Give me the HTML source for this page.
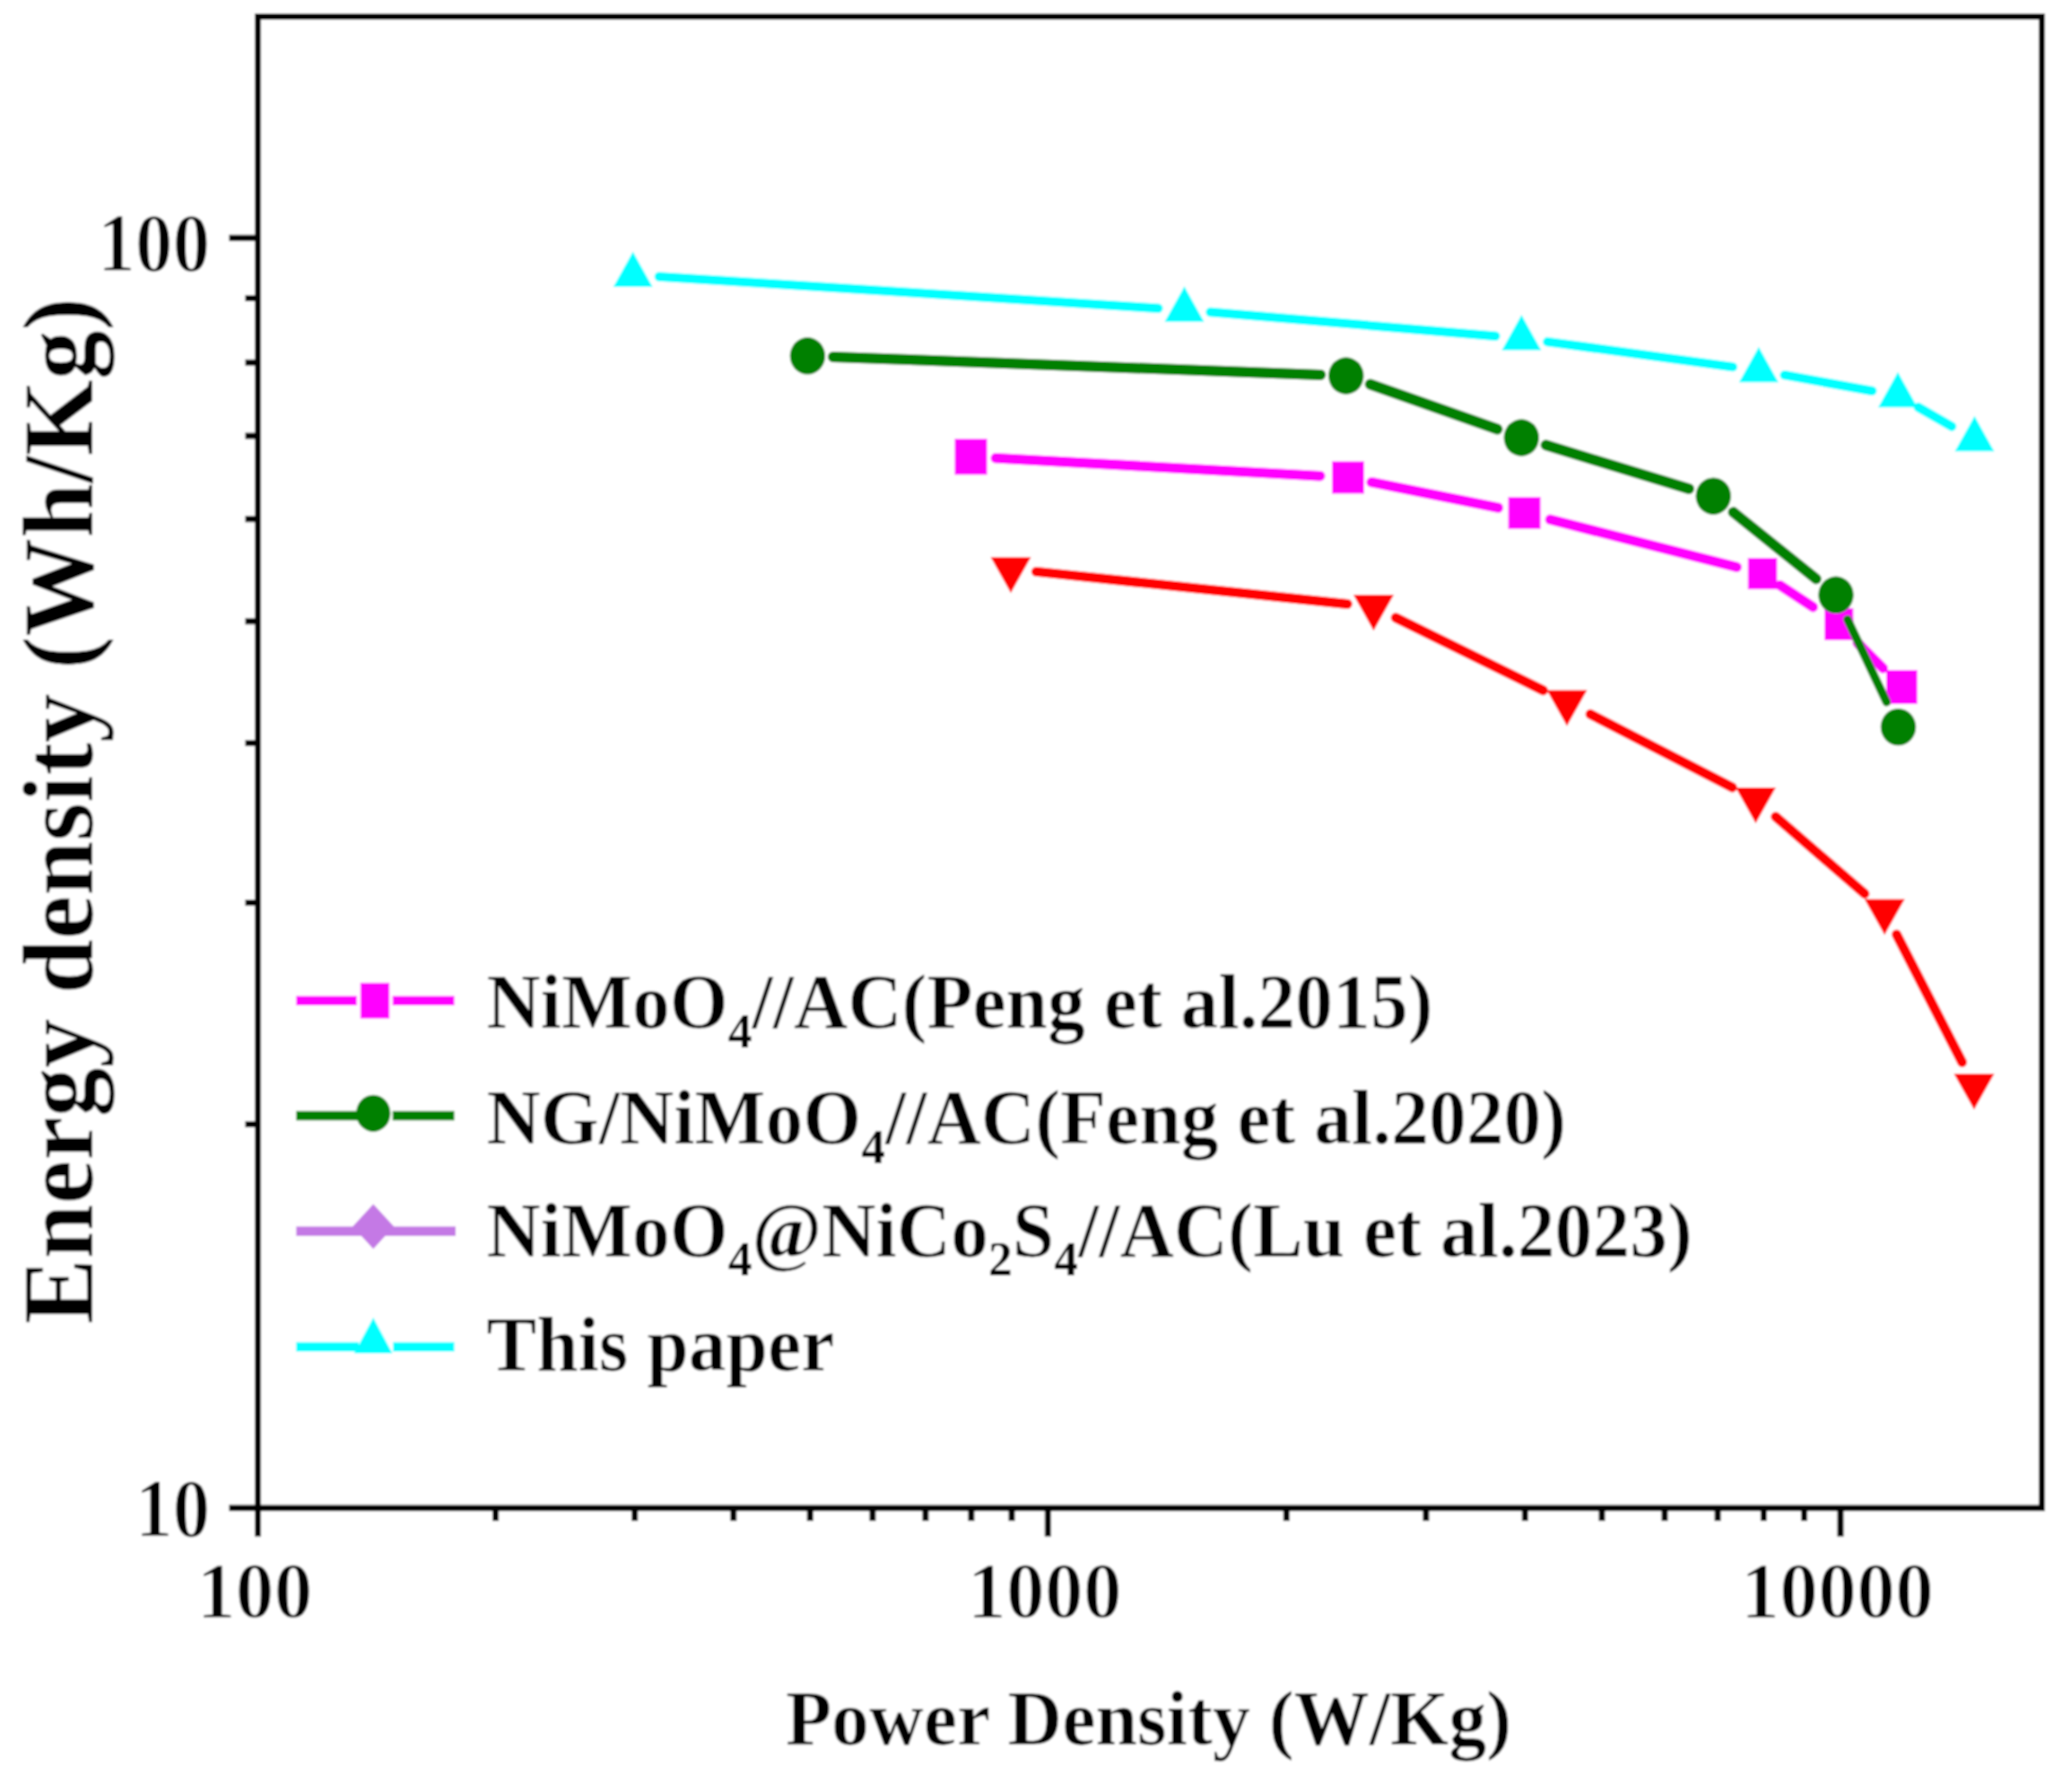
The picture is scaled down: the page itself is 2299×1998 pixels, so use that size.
<!DOCTYPE html>
<html lang="en"><head><meta charset="utf-8"><title>Ragone plot</title>
<style>html,body{margin:0;padding:0;background:#fff}svg{display:block}text{font-family:"Liberation Serif",serif;fill:#000}.b{font-weight:bold}.t{stroke:#fff;stroke-width:1.5px}.u{stroke:#fff;stroke-width:.6px}</style></head><body>
<svg width="2299" height="1998" viewBox="0 0 2299 1998">
<defs><filter id="soft" x="0" y="0" width="2299" height="1998" filterUnits="userSpaceOnUse"><feGaussianBlur stdDeviation="0.9"/></filter></defs>
<rect width="2299" height="1998" fill="#fff"/>
<g filter="url(#soft)">
<rect width="2299" height="1998" fill="#fff"/>
<g id="series-red">
<line x1="1155.3" y1="637.4" x2="1502.2" y2="673.5" stroke="#ff0000" stroke-width="11" stroke-linecap="round"/>
<line x1="1556.2" y1="688.7" x2="1720.5" y2="769.7" stroke="#ff0000" stroke-width="11" stroke-linecap="round"/>
<line x1="1773.2" y1="796.3" x2="1931.3" y2="877.9" stroke="#ff0000" stroke-width="11" stroke-linecap="round"/>
<line x1="1979.8" y1="910.7" x2="2078.9" y2="996.4" stroke="#ff0000" stroke-width="11" stroke-linecap="round"/>
<line x1="2114.6" y1="1042.0" x2="2187.6" y2="1184.3" stroke="#ff0000" stroke-width="11" stroke-linecap="round"/>
<polygon points="1127.0,661.2 1149.5,621.2 1104.5,621.2" fill="#ff0000"/>
<polygon points="1531.5,703.2 1554.0,663.2 1509.0,663.2" fill="#ff0000"/>
<polygon points="1747.0,809.5 1769.5,769.5 1724.5,769.5" fill="#ff0000"/>
<polygon points="1957.5,918.1 1980.0,878.1 1935.0,878.1" fill="#ff0000"/>
<polygon points="2101.2,1042.4 2123.7,1002.4 2078.7,1002.4" fill="#ff0000"/>
<polygon points="2201.0,1237.3 2223.5,1197.3 2178.5,1197.3" fill="#ff0000"/>
</g>
<g id="series-magenta">
<line x1="1110.2" y1="510.8" x2="1471.8" y2="530.7" stroke="#ff00ff" stroke-width="11.5" stroke-linecap="round"/>
<line x1="1529.2" y1="537.7" x2="1670.4" y2="566.1" stroke="#ff00ff" stroke-width="11.5" stroke-linecap="round"/>
<line x1="1728.4" y1="579.3" x2="1936.2" y2="632.3" stroke="#ff00ff" stroke-width="11.5" stroke-linecap="round"/>
<line x1="1984.8" y1="652.7" x2="2021.3" y2="676.8" stroke="#ff00ff" stroke-width="11.5" stroke-linecap="round"/>
<line x1="2071.3" y1="717.0" x2="2099.3" y2="745.0" stroke="#ff00ff" stroke-width="11.5" stroke-linecap="round"/>
<rect x="1064.5" y="489.3" width="36" height="40" fill="#ff00ff"/>
<rect x="1485.0" y="514.4" width="36" height="36" fill="#ff00ff"/>
<rect x="1681.6" y="554.2" width="36" height="35.5" fill="#ff00ff"/>
<rect x="1948.8" y="622.1" width="32.5" height="35" fill="#ff00ff"/>
<rect x="2034.3" y="678.2" width="32" height="35.5" fill="#ff00ff"/>
<rect x="2103.1" y="747.1" width="34.5" height="37.8" fill="#ff00ff"/>
</g>
<g id="series-green">
<line x1="928.9" y1="397.9" x2="1472.3" y2="417.9" stroke="#008000" stroke-width="12" stroke-linecap="round"/>
<line x1="1527.7" y1="428.5" x2="1669.4" y2="478.5" stroke="#008000" stroke-width="12" stroke-linecap="round"/>
<line x1="1723.6" y1="496.3" x2="1883.0" y2="544.9" stroke="#008000" stroke-width="12" stroke-linecap="round"/>
<line x1="1932.5" y1="571.1" x2="2024.8" y2="645.4" stroke="#008000" stroke-width="12" stroke-linecap="round"/>
<line x1="2059.9" y1="690.7" x2="2103.4" y2="782.8" stroke="#008000" stroke-width="9.5" stroke-linecap="round"/>
<ellipse cx="900.4" cy="396.8" rx="19.7" ry="20.7" fill="#008000"/>
<ellipse cx="1500.8" cy="419.0" rx="19.7" ry="20.7" fill="#008000"/>
<ellipse cx="1696.3" cy="488.0" rx="19.7" ry="20.7" fill="#008000"/>
<ellipse cx="1910.3" cy="553.2" rx="19.7" ry="20.7" fill="#008000"/>
<ellipse cx="2047.0" cy="663.3" rx="19.7" ry="20.7" fill="#008000"/>
<ellipse cx="2116.5" cy="810.6" rx="19.7" ry="20.7" fill="#008000"/>
</g>
<g id="series-cyan">
<line x1="734.9" y1="308.5" x2="1291.3" y2="343.7" stroke="#00ffff" stroke-width="10.5" stroke-linecap="round"/>
<line x1="1349.6" y1="348.0" x2="1667.3" y2="374.7" stroke="#00ffff" stroke-width="10.5" stroke-linecap="round"/>
<line x1="1725.4" y1="381.1" x2="1931.9" y2="409.1" stroke="#00ffff" stroke-width="10.5" stroke-linecap="round"/>
<line x1="1989.7" y1="418.2" x2="2087.2" y2="435.8" stroke="#00ffff" stroke-width="10.5" stroke-linecap="round"/>
<line x1="2138.8" y1="454.1" x2="2176.1" y2="475.5" stroke="#00ffff" stroke-width="10.5" stroke-linecap="round"/>
<polygon points="705.7,280.4 727.7,319.9 683.7,319.9" fill="#00ffff"/>
<polygon points="1320.5,319.2 1342.5,358.7 1298.5,358.7" fill="#00ffff"/>
<polygon points="1696.4,350.9 1718.4,390.4 1674.4,390.4" fill="#00ffff"/>
<polygon points="1960.9,386.7 1982.9,426.2 1938.9,426.2" fill="#00ffff"/>
<polygon points="2116.0,414.7 2138.0,454.2 2094.0,454.2" fill="#00ffff"/>
<polygon points="2201.5,463.7 2223.5,503.2 2179.5,503.2" fill="#00ffff"/>
</g>
<g id="axes" stroke="#000" fill="none">
<rect x="287.5" y="18.5" width="1989.0" height="1662.8" stroke-width="7"/>
<path d="M287.5,1681.3v32 M552.6,1681.3v14.5 M707.7,1681.3v14.5 M817.8,1681.3v14.5 M903.2,1681.3v14.5 M972.9,1681.3v14.5 M1031.9,1681.3v14.5 M1082.9,1681.3v14.5 M1128.0,1681.3v14.5 M1168.3,1681.3v32 M1434.3,1681.3v14.5 M1589.9,1681.3v14.5 M1700.3,1681.3v14.5 M1786.0,1681.3v14.5 M1856.0,1681.3v14.5 M1915.1,1681.3v14.5 M1966.4,1681.3v14.5 M2011.6,1681.3v14.5 M2052.0,1681.3v32 M287.5,265.3h-32 M287.5,332.6h-14.0 M287.5,404.2h-14.0 M287.5,485.9h-14.0 M287.5,578.8h-14.0 M287.5,692.8h-14.0 M287.5,828.4h-14.0 M287.5,1006.6h-14.0 M287.5,1253.6h-14.0 M287.5,1681.3h-32" stroke-width="7"/>
</g>
<g id="ticklabels" class="b t" font-size="87.5" text-anchor="middle">
<text transform="translate(284.0,1803.2) scale(0.984,1.005)">100</text>
<text transform="translate(1164.8,1803.2) scale(0.984,1.005)">1000</text>
<text transform="translate(2048.5,1803.2) scale(0.984,1.005)">10000</text>
</g>
<g id="yticklabels" class="b t" font-size="87.5" text-anchor="end">
<text transform="translate(234.3,301.8) scale(0.955,1.065)">100</text>
<text transform="translate(234.3,1713.2) scale(0.955,1.065)">10</text>
</g>
<text class="b u" transform="translate(1280.5,1945.4) scale(1,1.03)" font-size="83.9" text-anchor="middle">Power Density (W/Kg)</text>
<text class="b u" transform="translate(102.6,904.2) rotate(-90) scale(1,1.02)" font-size="109.6" text-anchor="middle">Energy density (Wh/Kg)</text>
<g id="legend">
<path d="M330.3,1115.8H397.8 M437.7,1115.8H506.5" stroke="#ff00ff" stroke-width="10.5"/>
<rect x="401.8" y="1095.8" width="32.4" height="39.8" fill="#ff00ff"/>
<path d="M330.3,1244H400 M437.7,1244H506.5" stroke="#008000" stroke-width="10.5"/>
<ellipse cx="416.2" cy="1241.3" rx="19.2" ry="20.6" fill="#008000"/>
<path d="M330.3,1372.8H508.0" stroke="#c479e5" stroke-width="10.5"/>
<polygon points="416.2,1342.5 439.2,1367.5 416.2,1392.6 393.2,1367.5" fill="#c479e5"/>
<path d="M330.3,1501.7H400 M438.3,1501.7H506.5" stroke="#00ffff" stroke-width="10.5"/>
<polygon points="416.2,1469 437.6,1509 394.8,1509" fill="#00ffff"/>
<g class="b u" font-size="83.6">
<text transform="translate(542.4,1146.3) scale(1,1.035)">NiMoO<tspan font-size="53.5" dy="20.9" stroke-width="0">4</tspan><tspan dy="-20.9">//AC(Peng et al.2015)</tspan></text>
<text transform="translate(542.4,1275.0) scale(1,1.035)">NG/NiMoO<tspan font-size="53.5" dy="20.9" stroke-width="0">4</tspan><tspan dy="-20.9">//AC(Feng et al.2020)</tspan></text>
<text transform="translate(542.4,1400.6) scale(1,1.035)">NiMoO<tspan font-size="53.5" dy="20.9" stroke-width="0">4</tspan><tspan dy="-20.9">@NiCo</tspan><tspan font-size="53.5" dy="20.9" stroke-width="0">2</tspan><tspan dy="-20.9">S</tspan><tspan font-size="53.5" dy="20.9" stroke-width="0">4</tspan><tspan dy="-20.9">//AC(Lu et al.2023)</tspan></text>
<text transform="translate(542.4,1528.4) scale(1,1.035)">This paper</text>
</g></g>
</g>
</svg></body></html>
